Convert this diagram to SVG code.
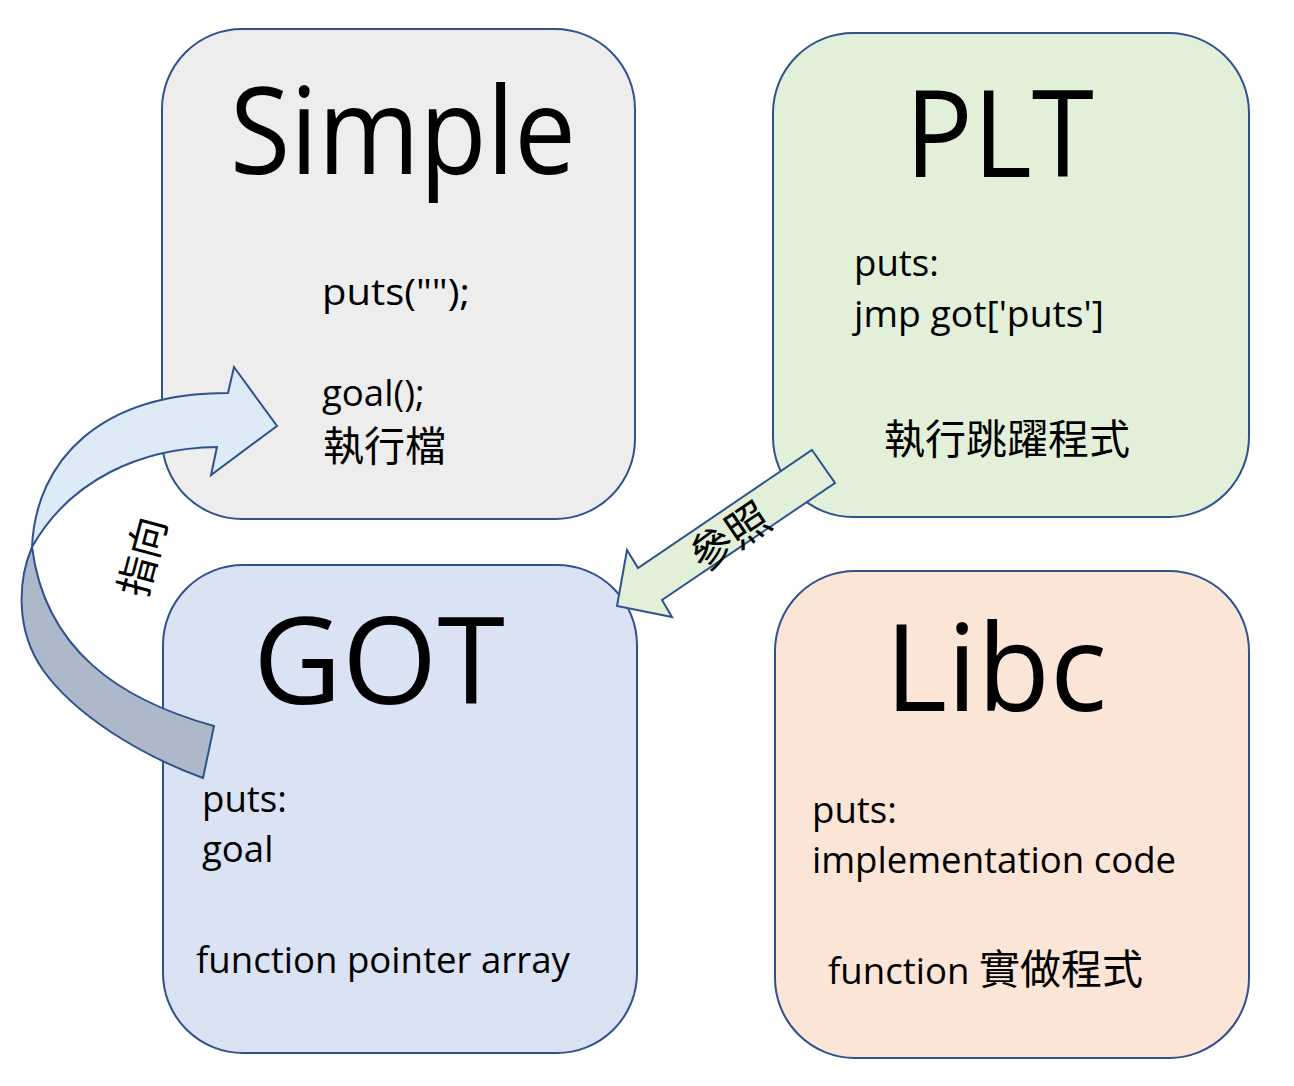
<svg xmlns="http://www.w3.org/2000/svg" width="1294" height="1086" viewBox="0 0 1294 1086">
<style>
.box{stroke:#2F528F;stroke-width:2}
.title{font-family:"Open Sans","Noto Sans CJK TC",sans-serif;font-size:121px;fill:#000}
.t{font-family:"Open Sans","Noto Sans CJK TC",sans-serif;font-size:36.6px;fill:#000}
.cjk{font-family:"Noto Sans CJK TC","Open Sans",sans-serif;font-size:41px}
.arrow{stroke:#2F528F;stroke-width:2;stroke-linejoin:miter}
.lbl{font-family:"Noto Sans CJK TC",sans-serif;font-size:40px;fill:#000}
</style>
<rect width="1294" height="1086" fill="#FFFFFF"/>
<g id="simple">
<rect class="box" x="162" y="29" width="473" height="490" rx="80" ry="80" fill="#EDEDED"/>
<text class="title" x="230" y="174" textLength="346" lengthAdjust="spacingAndGlyphs">Simple</text>
<text class="t" x="322" y="305" textLength="148" lengthAdjust="spacingAndGlyphs">puts("");</text>
<text class="t" x="322" y="406">goal();</text>
<text class="t cjk" x="323" y="461">執行檔</text>
</g>
<g id="plt">
<rect class="box" x="773" y="33" width="476" height="484" rx="80" ry="80" fill="#E2F0D9"/>
<text class="title" x="905" y="177" textLength="189" lengthAdjust="spacingAndGlyphs">PLT</text>
<text class="t" x="854" y="276">puts:</text>
<text class="t" x="854" y="327" textLength="250" lengthAdjust="spacingAndGlyphs">jmp got['puts']</text>
<text class="t cjk" x="884" y="454">執行跳躍程式</text>
</g>
<g id="got">
<rect class="box" x="163" y="565" width="474" height="488" rx="80" ry="80" fill="#DAE3F3"/>
<text class="title" x="253" y="704" textLength="252" lengthAdjust="spacingAndGlyphs">GOT</text>
<text class="t" x="202" y="812">puts:</text>
<text class="t" x="202" y="862">goal</text>
<text class="t" x="196" y="973">function pointer array</text>
</g>
<g id="libc">
<rect class="box" x="775" y="571" width="474" height="487" rx="80" ry="80" fill="#FBE5D6"/>
<text class="title" x="885" y="711" textLength="222" lengthAdjust="spacingAndGlyphs">Libc</text>
<text class="t" x="812" y="823">puts:</text>
<text class="t" x="812" y="873">implementation code</text>
<text class="t" x="828" y="984">function <tspan class="cjk">實做程式</tspan></text>
</g>
<g id="connectors">
<g id="points-to">
<path class="arrow" fill="#DEEBF7" d="M228,393 L234,367 L277,426 L211,475 L217,447 C140,448 70,480 32,547 C36,460 100,393 228,393 Z"/>
<path class="arrow" fill="#ADB9CA" d="M32,547 C18,580 15,630 43,670 C75,715 140,755 203,778 L214,726 C120,700 45,650 32,547 Z"/>
<text class="lbl" transform="translate(140,556) rotate(-75)" text-anchor="middle" dominant-baseline="central">指向</text>
</g>
<g id="refers">
<path class="arrow" fill="#E2F0D9" d="M812,450 L835,483 L662,600 L672,617 L617,606 L627,550 L638,568 Z"/>
<text class="lbl" style="font-size:43px" transform="translate(728,534) rotate(-34)" text-anchor="middle" dominant-baseline="central">參照</text>
</g>
</g>
</svg>
